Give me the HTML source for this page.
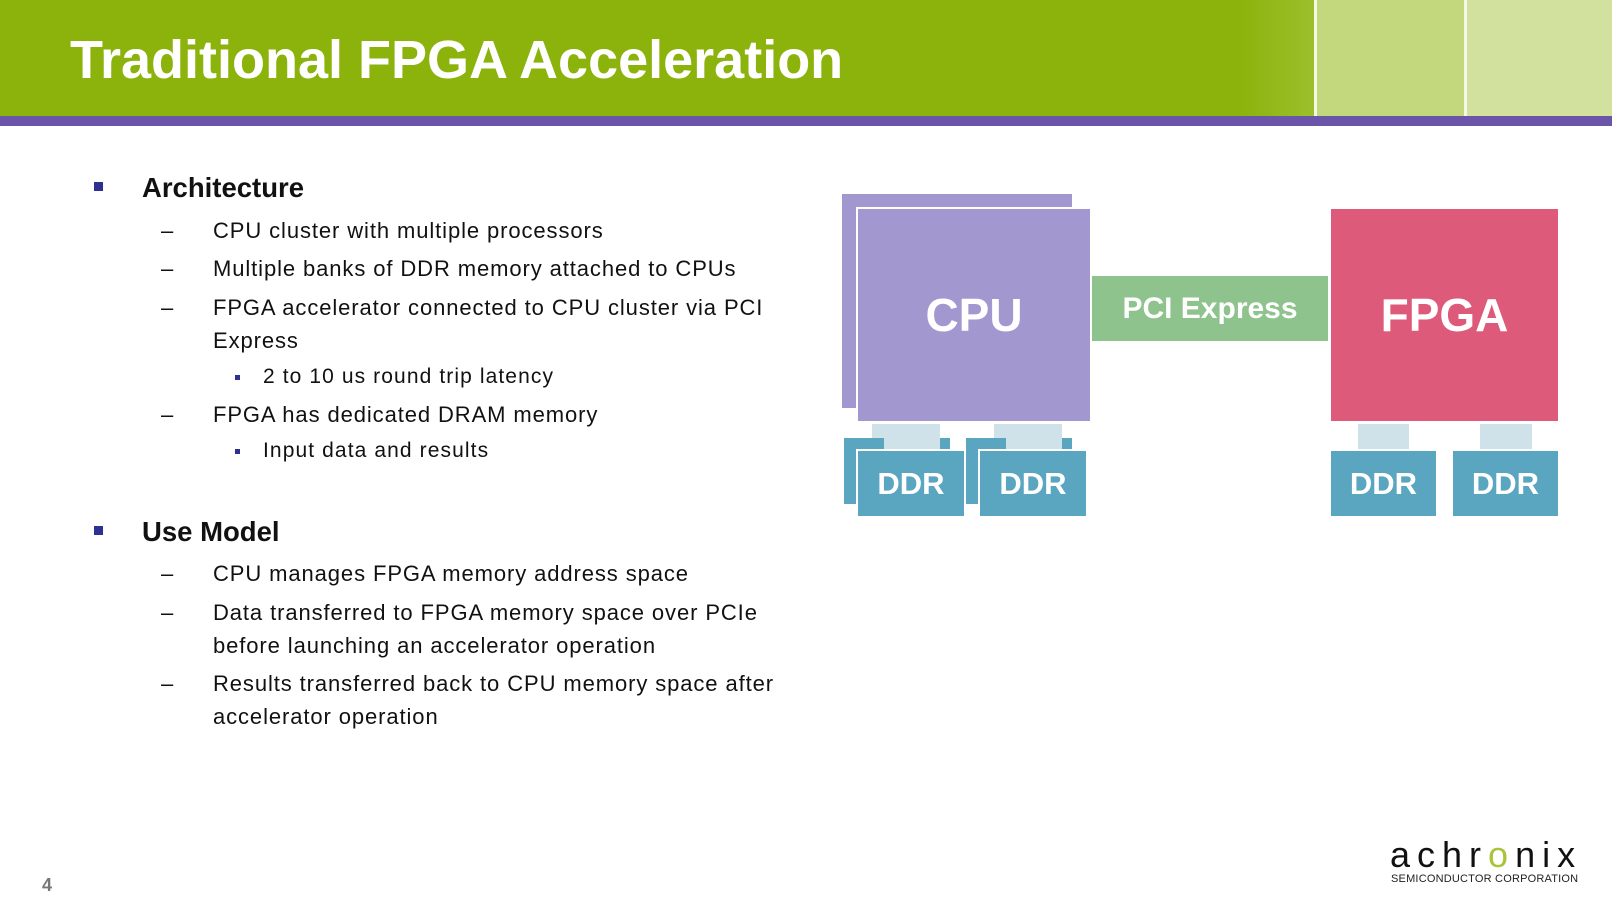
<!DOCTYPE html>
<html><head><meta charset="utf-8"><style>
*{margin:0;padding:0;box-sizing:border-box}
body{width:1612px;height:904px;position:relative;background:#fff;font-family:"Liberation Sans",sans-serif;overflow:hidden}
.a{position:absolute}
.t{position:absolute;white-space:nowrap;line-height:30px;height:30px;color:#111}
.s{font-size:22px;letter-spacing:0.9px}
.ss{font-size:21px;letter-spacing:1.1px}
.box{position:absolute;color:#fff;font-weight:bold;display:flex;align-items:center;justify-content:center}
</style></head><body>
<div class="a" style="left:0;top:0;width:1612px;height:116px;background:#8bb30b"></div>
<div class="a" style="left:1240px;top:0;width:76px;height:116px;background:linear-gradient(90deg,#8bb30b,#9cc02c)"></div>
<div class="a" style="left:1316px;top:0;width:150px;height:116px;background:#c3d77c"></div>
<div class="a" style="left:1466px;top:0;width:146px;height:116px;background:#d2e29e"></div>
<div class="a" style="left:1314px;top:0;width:3px;height:116px;background:#f4f8e4"></div>
<div class="a" style="left:1464px;top:0;width:3px;height:116px;background:#f4f8e4"></div>
<div class="a" style="left:0;top:116px;width:1612px;height:10px;background:#6a55a8"></div>
<div class="a" style="left:70px;top:30px;font-size:54px;font-weight:bold;color:#fff;line-height:60px">Traditional FPGA Acceleration</div>

<div class="a" style="left:94px;top:182px;width:9px;height:9px;background:#2e3192"></div>
<div class="t" style="left:142px;top:173px;font-size:27.5px;font-weight:bold">Architecture</div>
<div class="t s" style="left:161px;top:216px">–</div>
<div class="t s" style="left:213px;top:216px">CPU cluster with multiple processors</div>
<div class="t s" style="left:161px;top:254px">–</div>
<div class="t s" style="left:213px;top:254px">Multiple banks of DDR memory attached to CPUs</div>
<div class="t s" style="left:161px;top:293px">–</div>
<div class="t s" style="left:213px;top:293px">FPGA accelerator connected to CPU cluster via PCI</div>
<div class="t s" style="left:213px;top:326px">Express</div>
<div class="a" style="left:235px;top:375px;width:5px;height:5px;background:#2e3192"></div>
<div class="t ss" style="left:263px;top:362px">2 to 10 us round trip latency</div>
<div class="t s" style="left:161px;top:400px">–</div>
<div class="t s" style="left:213px;top:400px">FPGA has dedicated DRAM memory</div>
<div class="a" style="left:235px;top:449px;width:5px;height:5px;background:#2e3192"></div>
<div class="t ss" style="left:263px;top:436px">Input data and results</div>

<div class="a" style="left:94px;top:526px;width:9px;height:9px;background:#2e3192"></div>
<div class="t" style="left:142px;top:517px;font-size:27.5px;font-weight:bold">Use Model</div>
<div class="t s" style="left:161px;top:559px">–</div>
<div class="t s" style="left:213px;top:559px">CPU manages FPGA memory address space</div>
<div class="t s" style="left:161px;top:598px">–</div>
<div class="t s" style="left:213px;top:598px">Data transferred to FPGA memory space over PCIe</div>
<div class="t s" style="left:213px;top:631px">before launching an accelerator operation</div>
<div class="t s" style="left:161px;top:669px">–</div>
<div class="t s" style="left:213px;top:669px">Results transferred back to CPU memory space after</div>
<div class="t s" style="left:213px;top:702px">accelerator operation</div>

<div class="a" style="left:842px;top:194px;width:230px;height:214px;background:#a397d0"></div>
<div class="a" style="left:856px;top:207px;width:236px;height:216px;background:#fff"></div>
<div class="box" style="left:858px;top:209px;width:232px;height:212px;background:#a397d0;font-size:46px">CPU</div>
<div class="box" style="left:1092px;top:276px;width:236px;height:65px;background:#8fc38d;font-size:30px">PCI Express</div>
<div class="box" style="left:1331px;top:209px;width:227px;height:212px;background:#de5a7a;font-size:46px">FPGA</div>

<div class="a" style="left:872px;top:424px;width:52px;height:26px;background:#cfe2ea"></div>
<div class="a" style="left:994px;top:424px;width:52px;height:26px;background:#cfe2ea"></div>
<div class="a" style="left:844px;top:438px;width:106px;height:66px;background:#5aa5c0"></div>
<div class="a" style="left:966px;top:438px;width:106px;height:66px;background:#5aa5c0"></div>
<div class="a" style="left:884px;top:424px;width:56px;height:25px;background:#cfe2ea"></div>
<div class="a" style="left:1006px;top:424px;width:56px;height:25px;background:#cfe2ea"></div>
<div class="a" style="left:856px;top:449px;width:110px;height:69px;background:#fff"></div>
<div class="a" style="left:978px;top:449px;width:110px;height:69px;background:#fff"></div>
<div class="box" style="left:858px;top:451px;width:106px;height:65px;background:#5aa5c0;font-size:31px">DDR</div>
<div class="box" style="left:980px;top:451px;width:106px;height:65px;background:#5aa5c0;font-size:31px">DDR</div>
<div class="a" style="left:1358px;top:424px;width:51px;height:25px;background:#cfe2ea"></div>
<div class="a" style="left:1480px;top:424px;width:52px;height:25px;background:#cfe2ea"></div>
<div class="box" style="left:1331px;top:451px;width:105px;height:65px;background:#5aa5c0;font-size:31px">DDR</div>
<div class="box" style="left:1453px;top:451px;width:105px;height:65px;background:#5aa5c0;font-size:31px">DDR</div>

<div class="a" style="left:42px;top:874px;font-size:18px;font-weight:bold;color:#777;line-height:22px">4</div>
<div class="a" style="left:1390px;top:835px;font-size:36px;letter-spacing:7px;color:#111;line-height:40px">achr<span style="color:#a8c43a">o</span>nix</div>
<div class="a" style="left:1391px;top:872px;font-size:11px;letter-spacing:0.2px;color:#222;line-height:14px">SEMICONDUCTOR CORPORATION</div>
</body></html>
